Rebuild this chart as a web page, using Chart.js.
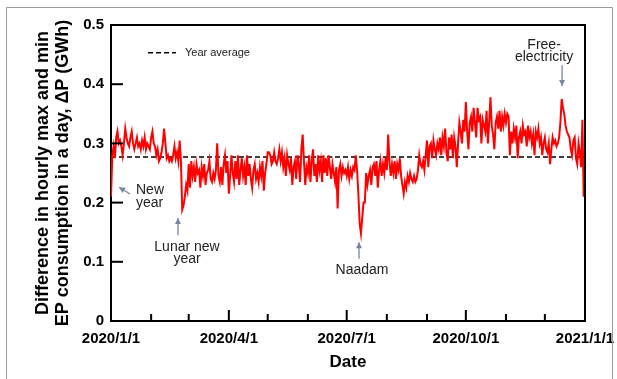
<!DOCTYPE html>
<html><head><meta charset="utf-8">
<script src="https://cdn.jsdelivr.net/npm/chart.js@4"></script>
<style>html,body{margin:0;padding:0;background:#fff;}#wrap{width:617px;height:379px;position:relative;}</style>
</head><body><div id="wrap"><canvas id="c" width="617" height="379"></canvas></div>
<script>
// Daily ΔP (GWh), 2020-01-01 .. 2020-12-31 (366 days)
const jan = [0.21,0.28,0.295,0.275,0.31,0.32,0.30,0.305,0.295,0.28,0.30,0.325,0.31,0.30,0.295,0.31,0.32,0.30,0.29,0.30,0.31,0.295,0.30,0.29,0.305,0.295,0.31,0.29,0.30,0.295,0.29];
const feb = [0.31,0.32,0.30,0.295,0.28,0.29,0.27,0.275,0.285,0.30,0.325,0.30,0.275,0.28,0.27,0.275,0.27,0.28,0.295,0.275,0.285,0.27,0.305,0.27,0.188,0.195,0.21,0.23,0.22];
const mar = [0.265,0.225,0.27,0.245,0.26,0.235,0.265,0.25,0.255,0.225,0.26,0.245,0.265,0.23,0.25,0.255,0.27,0.24,0.235,0.25,0.24,0.255,0.30,0.245,0.235,0.26,0.23,0.265,0.28,0.25,0.27];
const apr = [0.215,0.245,0.28,0.25,0.235,0.27,0.24,0.28,0.23,0.255,0.275,0.245,0.26,0.23,0.28,0.245,0.265,0.24,0.225,0.255,0.265,0.24,0.25,0.235,0.26,0.245,0.27,0.22,0.25,0.265];
const may = [0.285,0.285,0.28,0.265,0.27,0.285,0.27,0.265,0.275,0.29,0.27,0.285,0.26,0.275,0.245,0.28,0.265,0.255,0.275,0.23,0.26,0.27,0.24,0.28,0.265,0.235,0.29,0.315,0.27,0.23,0.26];
const jun = [0.25,0.28,0.235,0.27,0.29,0.245,0.265,0.235,0.28,0.255,0.27,0.235,0.28,0.25,0.275,0.245,0.28,0.26,0.24,0.265,0.25,0.235,0.26,0.19,0.255,0.265,0.245,0.26,0.25,0.255];
const jul = [0.245,0.26,0.24,0.255,0.245,0.26,0.255,0.28,0.255,0.215,0.165,0.148,0.175,0.20,0.20,0.25,0.23,0.245,0.255,0.23,0.26,0.265,0.245,0.27,0.225,0.255,0.27,0.245,0.265,0.25,0.275];
const aug = [0.255,0.315,0.27,0.245,0.265,0.25,0.27,0.24,0.265,0.255,0.275,0.245,0.23,0.215,0.235,0.225,0.245,0.235,0.25,0.24,0.235,0.245,0.235,0.24,0.255,0.28,0.265,0.26,0.27,0.255,0.28];
const sep = [0.305,0.26,0.295,0.30,0.275,0.305,0.29,0.28,0.30,0.29,0.31,0.28,0.31,0.295,0.325,0.285,0.27,0.31,0.29,0.315,0.275,0.31,0.295,0.26,0.30,0.335,0.32,0.30,0.34,0.32];
const oct = [0.37,0.32,0.29,0.335,0.345,0.32,0.36,0.335,0.31,0.36,0.34,0.345,0.30,0.34,0.33,0.32,0.355,0.30,0.335,0.378,0.33,0.315,0.29,0.335,0.345,0.325,0.355,0.32,0.345,0.33,0.35];
const nov = [0.335,0.35,0.345,0.28,0.32,0.30,0.325,0.31,0.33,0.275,0.31,0.32,0.30,0.33,0.315,0.32,0.295,0.33,0.31,0.32,0.30,0.315,0.28,0.32,0.31,0.325,0.30,0.31,0.28,0.30];
const dec = [0.31,0.29,0.285,0.30,0.265,0.29,0.31,0.30,0.305,0.295,0.30,0.31,0.335,0.375,0.36,0.35,0.33,0.32,0.315,0.31,0.29,0.28,0.305,0.31,0.275,0.265,0.30,0.285,0.26,0.34,0.21];
const deltaP = [].concat(jan,feb,mar,apr,may,jun,jul,aug,sep,oct,nov,dec);
const yearAverage = 0.277;

// x axis: day index from 2020/1/1
const monthStartDays = [0,31,60,91,121,152,182,213,244,274,305,335,366];
const quarterDays = [0,91,182,274,366];
const quarterLabels = ['2020/1/1','2020/4/1','2020/7/1','2020/10/1','2021/1/1'];
const yTicks = [0,0.1,0.2,0.3,0.4,0.5];

// annotations anchored in data units [day, value]
const annotations = [
  {lines:['New','year'], textAt:[19.3,0.221], align:'left', arrowFrom:[14.7,0.2145], arrowTo:[6.2,0.226]},
  {lines:['Lunar new','year'], textAt:[58.7,0.125], align:'center', arrowFrom:[51.7,0.145], arrowTo:[51.7,0.174]},
  {lines:['Naadam'], textAt:[193.8,0.086], align:'center', arrowFrom:[191.5,0.105], arrowTo:[191.5,0.133]},
  {lines:['Free-','electricity'], textAt:[334.4,0.466], align:'center', arrowFrom:[348.3,0.432], arrowTo:[348.3,0.397]}
];
const legendAnchor = {lineFrom:[28.6,0.453], lineTo:[50.2,0.453], textAt:[57.1,0.453], label:'Year average'};

const FONT = "'Liberation Sans', Arial, sans-serif";

const decor = {
  id:'decor',
  afterDraw(chart){
    const ctx = chart.ctx, xs = chart.scales.x, ys = chart.scales.y, a = chart.chartArea;
    const X = d=>xs.getPixelForValue(d), Y = v=>ys.getPixelForValue(v);
    ctx.save();
    // outer figure frame
    ctx.strokeStyle = '#9a9a9a'; ctx.lineWidth = 1;
    ctx.beginPath(); ctx.moveTo(6.5,400); ctx.lineTo(6.5,7.5); ctx.lineTo(612.5,7.5); ctx.lineTo(612.5,400); ctx.stroke();
    // plot frame top/right
    ctx.strokeStyle = '#000'; ctx.lineWidth = 2;
    ctx.beginPath(); ctx.moveTo(a.left, a.top); ctx.lineTo(a.right, a.top); ctx.lineTo(a.right, a.bottom); ctx.stroke();
    // inward ticks
    ctx.lineWidth = 2;
    monthStartDays.forEach(d=>{
      const len = quarterDays.includes(d) ? 11 : 7;
      const px = X(d);
      ctx.beginPath(); ctx.moveTo(px, a.bottom); ctx.lineTo(px, a.bottom-len); ctx.stroke();
    });
    yTicks.forEach(v=>{
      const py = Y(v);
      ctx.beginPath(); ctx.moveTo(a.left, py); ctx.lineTo(a.left+12, py); ctx.stroke();
    });
    // legend
    ctx.setLineDash([5,3]); ctx.lineWidth = 1.5;
    ctx.beginPath(); ctx.moveTo(X(legendAnchor.lineFrom[0]), Y(legendAnchor.lineFrom[1])); ctx.lineTo(X(legendAnchor.lineTo[0]), Y(legendAnchor.lineTo[1])); ctx.stroke();
    ctx.setLineDash([]);
    ctx.fillStyle = '#222'; ctx.font = '11px '+FONT; ctx.textAlign='left'; ctx.textBaseline='middle';
    ctx.fillText(legendAnchor.label, X(legendAnchor.textAt[0]), Y(legendAnchor.textAt[1]));
    // annotations
    annotations.forEach(an=>{
      ctx.fillStyle = '#222'; ctx.font = '14px '+FONT; ctx.textAlign = an.align; ctx.textBaseline='middle';
      an.lines.forEach((t,i)=>ctx.fillText(t, X(an.textAt[0]), Y(an.textAt[1]) + i*12.5));
      const x1 = X(an.arrowFrom[0]), y1 = Y(an.arrowFrom[1]), x2 = X(an.arrowTo[0]), y2 = Y(an.arrowTo[1]);
      ctx.strokeStyle = '#7884a8'; ctx.fillStyle = '#7884a8'; ctx.lineWidth = 1.3;
      ctx.beginPath(); ctx.moveTo(x1,y1); ctx.lineTo(x2,y2); ctx.stroke();
      const ang = Math.atan2(y2-y1, x2-x1), h = 6, w = 3;
      ctx.beginPath();
      ctx.moveTo(x2,y2);
      ctx.lineTo(x2 - h*Math.cos(ang) + w*Math.sin(ang), y2 - h*Math.sin(ang) - w*Math.cos(ang));
      ctx.lineTo(x2 - h*Math.cos(ang) - w*Math.sin(ang), y2 - h*Math.sin(ang) + w*Math.cos(ang));
      ctx.closePath(); ctx.fill();
    });
    // axis titles
    ctx.fillStyle = '#000'; ctx.textAlign='center'; ctx.textBaseline='middle';
    ctx.font = 'bold 17px '+FONT;
    ctx.fillText('Date', (a.left+a.right)/2, 362);
    ctx.save();
    ctx.translate(43, (a.top+a.bottom)/2); ctx.rotate(-Math.PI/2);
    ctx.font = 'bold 18px '+FONT;
    ctx.fillText('Difference in hourly max and min', 0, 0);
    ctx.fillText('EP consumption in a day, \u0394P (GWh)', 0, 20);
    ctx.restore();
    ctx.restore();
  }
};

new Chart(document.getElementById('c'), {
  type:'line',
  data:{datasets:[
    {label:'ΔP', data: deltaP.map((v,i)=>({x:i,y:v})), borderColor:'#ff0000', borderWidth:2, pointRadius:0, tension:0, fill:false},
    {label:'Year average', data:[{x:0,y:yearAverage},{x:366,y:yearAverage}], borderColor:'#000', borderWidth:1.5, borderDash:[5,3], pointRadius:0, fill:false}
  ]},
  options:{
    responsive:false, animation:false,
    layout:{padding:{left:0,right:32,top:25,bottom:0}},
    plugins:{legend:{display:false}, tooltip:{enabled:false}},
    scales:{
      x:{type:'linear', min:0, max:366,
        afterFit(s){ s.height = 58; s.paddingLeft = 0; s.paddingRight = 0; },
        afterBuildTicks(s){ s.ticks = monthStartDays.map(d=>({value:d})); },
        grid:{display:false, drawTicks:false},
        border:{display:true, color:'#000', width:2},
        ticks:{autoSkip:false, maxRotation:0, padding:9, color:'#000', font:{family:FONT, size:15, weight:'bold'},
          callback(v){ const k = quarterDays.indexOf(v); return k>=0 ? quarterLabels[k] : ''; }}
      },
      y:{min:0, max:0.5,
        afterFit(s){ s.width = 111; s.paddingTop = 0; s.paddingBottom = 0; },
        afterBuildTicks(s){ s.ticks = yTicks.map(v=>({value:v})); },
        grid:{display:false, drawTicks:false},
        border:{display:true, color:'#000', width:2},
        ticks:{padding:7, color:'#000', font:{family:FONT, size:15, weight:'bold'},
          callback(v){ return v===0 ? '0' : Number(v).toFixed(1); }}
      }
    }
  },
  plugins:[decor]
});
</script></body></html>
